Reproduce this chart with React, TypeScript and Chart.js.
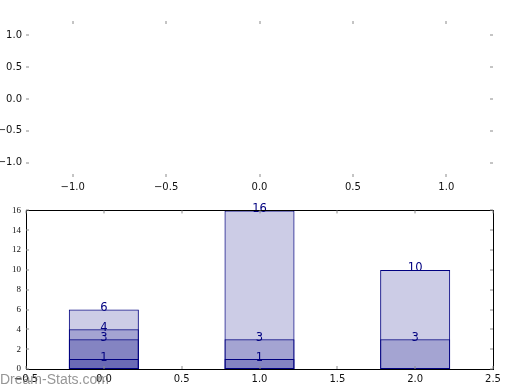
import React, { useEffect, useRef } from "react";
import { Chart, registerables } from "chart.js";
Chart.register(...registerables);

// ---- data ----
const categories = [0, 1, 2];
const layerA: (number | null)[] = [6, 16, 10];
const layerB: (number | null)[] = [4, 3, 3];
const layerC: (number | null)[] = [3, 1, null];
const layerD: (number | null)[] = [1, null, null];
const layers = [layerA, layerB, layerC, layerD];

const topXTicks = [-1, -0.5, 0, 0.5, 1];
const topYTicks = [-1, -0.5, 0, 0.5, 1];
const barXTicks = [-0.5, 0, 0.5, 1, 1.5, 2, 2.5];
const barYTicks = [0, 2, 4, 6, 8, 10, 12, 14, 16];
const watermark = "Dream-Stats.com";

const NAVY = "#000080";
const fmt1 = (v: number) => v.toFixed(1).replace("-", "\u2212");

const decor = {
  id: "decor",
  afterDatasetsDraw(chart: any, _args: any, opts: any) {
    const { ctx, chartArea: a, scales } = chart;
    const xs = scales.x;
    const ys = scales.y;
    ctx.save();
    // bar value labels
    if (opts.barLabels) {
      ctx.font = '11.5px "DejaVu Sans"';
      ctx.fillStyle = NAVY;
      ctx.textAlign = "center";
      ctx.textBaseline = "alphabetic";
      chart.data.datasets.forEach((ds: any, i: number) => {
        const meta = chart.getDatasetMeta(i);
        meta.data.forEach((el: any, j: number) => {
          const v = ds.data[j].y;
          ctx.fillText(String(v), el.x, el.y + 1.5);
        });
      });
    }
    // frame
    if (opts.frame) {
      ctx.strokeStyle = "#000";
      ctx.lineWidth = 1;
      ctx.strokeRect(
        Math.round(a.left) + 0.5,
        Math.round(a.top) + 0.5,
        Math.round(a.right) - Math.round(a.left),
        Math.round(a.bottom) - Math.round(a.top)
      );
    }
    // tick marks (inside)
    ctx.strokeStyle = "#8a8a8a";
    ctx.lineWidth = 1;
    const L = 3;
    ctx.beginPath();
    for (const v of opts.xTicks) {
      const px = Math.round(xs.getPixelForValue(v));
      ctx.moveTo(px, a.top);
      ctx.lineTo(px, a.top + L);
      ctx.moveTo(px, a.bottom);
      ctx.lineTo(px, a.bottom - L);
    }
    for (const v of opts.yTicks) {
      const py = Math.round(ys.getPixelForValue(v));
      ctx.moveTo(a.left, py);
      ctx.lineTo(a.left + L, py);
      ctx.moveTo(a.right, py);
      ctx.lineTo(a.right - L, py);
    }
    ctx.stroke();
    ctx.restore();
  },
  afterDraw(chart: any, _args: any, opts: any) {
    if (!opts.watermark) return;
    const { ctx } = chart;
    ctx.save();
    ctx.font = '14px "Liberation Sans"';
    ctx.fillStyle = "rgba(115,115,115,0.75)";
    ctx.textAlign = "left";
    ctx.textBaseline = "alphabetic";
    ctx.fillText(opts.watermark, 0, 184);
    ctx.restore();
  },
};

function TopPlot() {
  const ref = useRef<HTMLCanvasElement>(null);
  useEffect(() => {
    const chart = new Chart(ref.current!, {
      type: "scatter",
      data: { datasets: [] },
      plugins: [decor],
      options: {
        responsive: false,
        animation: false,
        events: [],
        layout: { padding: { top: 21, right: 27, left: 0, bottom: 0 } },
        plugins: {
          legend: { display: false },
          tooltip: { enabled: false },
          decor: { xTicks: topXTicks, yTicks: topYTicks, frame: false },
        } as any,
        scales: {
          x: {
            type: "linear",
            min: -1.25,
            max: 1.25,
            grid: { display: false, drawTicks: false },
            border: { display: false },
            afterBuildTicks: (s: any) => {
              s.ticks = topXTicks.map((value) => ({ value }));
            },
            afterFit: (s: any) => {
              s.height = 23;
            },
            ticks: {
              padding: 4,
              maxRotation: 0,
              color: "#111",
              font: { family: "DejaVu Sans", size: 10 },
              callback: (v: any) => fmt1(Number(v)),
            },
          },
          y: {
            type: "linear",
            min: -1.225,
            max: 1.225,
            grid: { display: false, drawTicks: false },
            border: { display: false },
            afterBuildTicks: (s: any) => {
              s.ticks = topYTicks.map((value) => ({ value }));
            },
            afterFit: (s: any) => {
              s.width = 26;
            },
            ticks: {
              padding: 4,
              color: "#111",
              font: { family: "DejaVu Sans", size: 10 },
              callback: (v: any) => fmt1(Number(v)),
            },
          },
        },
      },
    });
    return () => chart.destroy();
  }, []);
  return (
    <canvas
      ref={ref}
      width={520}
      height={200}
      style={{ position: "absolute", left: 0, top: 0, width: 520, height: 200 }}
    />
  );
}

function BarPlot() {
  const ref = useRef<HTMLCanvasElement>(null);
  useEffect(() => {
    const datasets = layers.map((layer) => ({
      data: categories
        .map((c, i) => ({ x: c, y: layer[i] }))
        .filter((p) => p.y !== null) as any,
      backgroundColor: "rgba(0,0,128,0.2)",
      borderColor: NAVY,
      borderWidth: 1,
      borderSkipped: false,
      grouped: false,
      barPercentage: 0.9,
      categoryPercentage: 1,
    }));
    const chart = new Chart(ref.current!, {
      type: "bar",
      data: { datasets: datasets as any },
      plugins: [decor],
      options: {
        responsive: false,
        animation: false,
        events: [],
        layout: { padding: { top: 10, right: 27, left: 0, bottom: 0 } },
        plugins: {
          legend: { display: false },
          tooltip: { enabled: false },
          decor: {
            xTicks: barXTicks,
            yTicks: barYTicks,
            frame: true,
            barLabels: true,
            watermark,
          },
        } as any,
        scales: {
          x: {
            type: "linear",
            min: -0.5,
            max: 2.5,
            offset: false,
            grid: { display: false, drawTicks: false },
            border: { display: false },
            afterBuildTicks: (s: any) => {
              s.ticks = barXTicks.map((value) => ({ value }));
            },
            afterFit: (s: any) => {
              s.height = 21;
            },
            ticks: {
              padding: 4,
              maxRotation: 0,
              color: "#111",
              font: { family: "DejaVu Sans", size: 10 },
              callback: (v: any) => fmt1(Number(v)),
            },
          },
          y: {
            type: "linear",
            min: 0,
            max: 16,
            grid: { display: false, drawTicks: false },
            border: { display: false },
            afterBuildTicks: (s: any) => {
              s.ticks = barYTicks.map((value) => ({ value }));
            },
            afterFit: (s: any) => {
              s.width = 26;
            },
            ticks: {
              padding: 5,
              color: "#111",
              font: { family: "Liberation Serif", size: 9 },
              callback: (v: any) => String(v),
            },
          },
        },
      },
    });
    return () => chart.destroy();
  }, []);
  return (
    <canvas
      ref={ref}
      width={520}
      height={190}
      style={{ position: "absolute", left: 0, top: 200, width: 520, height: 190 }}
    />
  );
}

export default function App() {
  return (
    <div
      style={{
        position: "absolute",
        left: 0,
        top: 0,
        width: 520,
        height: 390,
        background: "#fff",
        overflow: "hidden",
      }}
    >
      <TopPlot />
      <BarPlot />
    </div>
  );
}
